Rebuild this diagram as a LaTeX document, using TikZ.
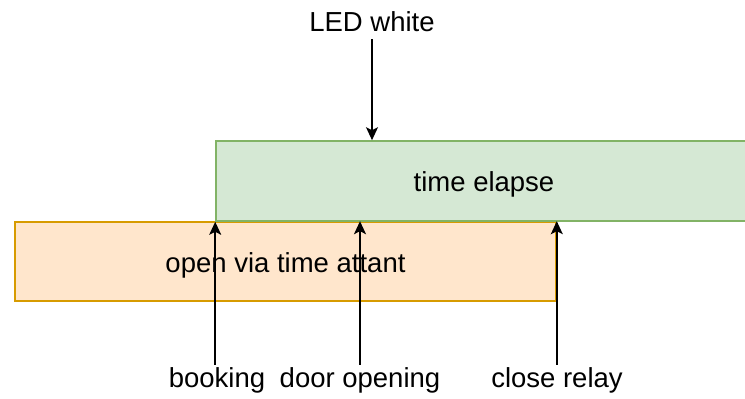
\documentclass[tikz,border=0pt]{standalone}
\usepackage{fontspec}
\setmainfont{Liberation Sans}
\usetikzlibrary{arrows.meta, positioning}
\definecolor{greenfill}{HTML}{D5E8D4}
\definecolor{greenline}{HTML}{82B366}
\definecolor{orangefill}{HTML}{FFE6CC}
\definecolor{orangeline}{HTML}{D79B00}

\begin{document}
\begin{tikzpicture}[
    x=1pt, y=-1pt,
    phase/.style={rectangle, line width=1.6pt, inner sep=0pt, text height=21pt, text depth=0pt, font=\fontsize{27.5}{33}\selectfont},
    green/.style={phase, draw=greenline, fill=greenfill, minimum width=536pt, minimum height=80pt},
    orange/.style={phase, draw=orangeline, fill=orangefill, minimum width=541pt, minimum height=79pt},
    lbl/.style={inner sep=2pt, anchor=base, font=\fontsize{27.5}{33}\selectfont},
    arrow/.style={-{Stealth[length=13pt, width=12pt, inset=3pt]}, line width=1.5pt, color=black}
]
\clip (0,0) rectangle (745,399);
\node[orange] (attant) at (285.5,261.5) {open via time attant};
\node[green] (elapse) at (484,181) {time elapse};
\node[lbl] (led) at (372,31.7) {LED white};
\node[lbl] (booking) at (217,387) {booking};
\node[lbl] (dooropen) at (360,387) {door opening};
\node[lbl] (closerelay) at (557,387) {close relay};
\draw[arrow, shorten <=5pt] (led.south) -- (led.south |- elapse.north);
\draw[arrow] (elapse.south west |- booking.north) -- (elapse.south west);
\draw[arrow] (dooropen.north) -- (dooropen.north |- attant.north);
\draw[arrow] (attant.north east |- closerelay.north) -- (attant.north east);
\end{tikzpicture}
\end{document}
